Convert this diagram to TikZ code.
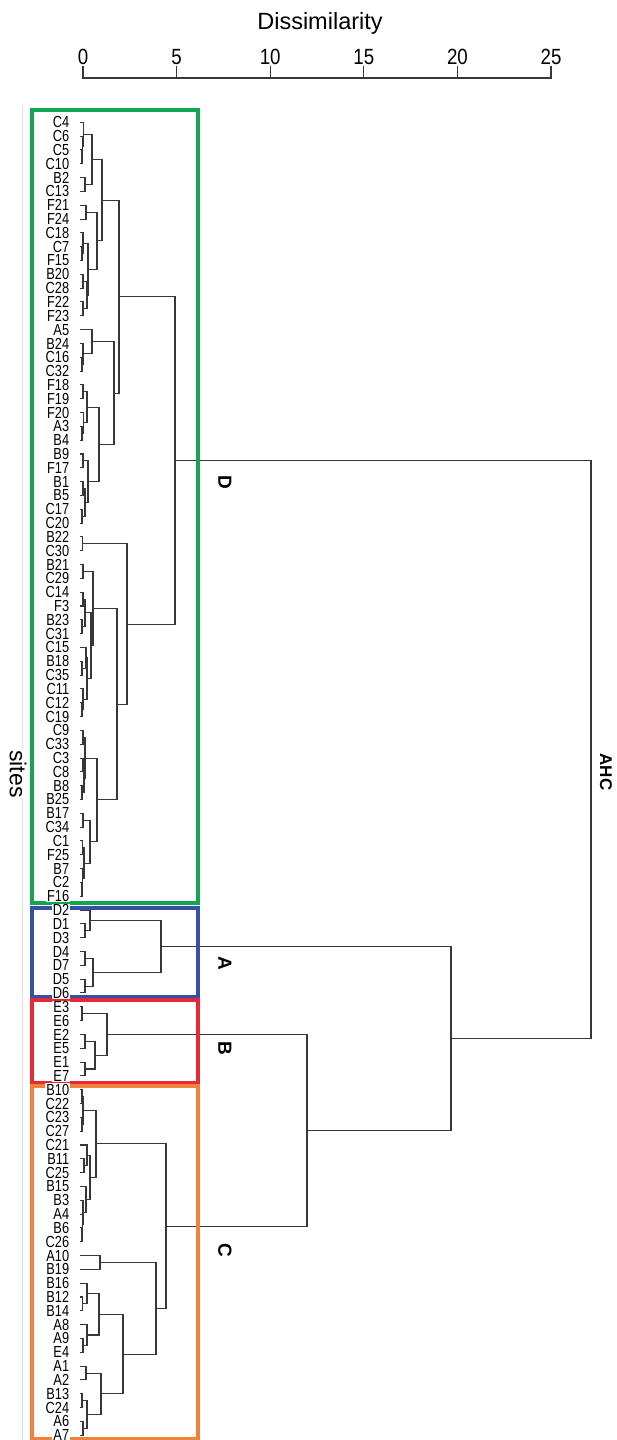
\documentclass[tikz,border=0pt]{standalone}
\usepackage{fontspec}
\setmainfont{Liberation Sans}
\usetikzlibrary{calc}
\definecolor{treecol}{RGB}{55,55,55}
\definecolor{bgreen}{RGB}{20,165,80}
\definecolor{bblue}{RGB}{55,80,165}
\definecolor{bred}{RGB}{232,40,55}
\definecolor{borange}{RGB}{240,130,60}
\tikzset{
  tree/.style={draw=treecol, line width=1.05pt},
  leaflab/.style={anchor=east, fill=white, inner xsep=1.5pt, inner ysep=0.6pt, font=\fontsize{16}{16}\selectfont, xscale=0.8, transform shape},
  clusterbox/.style={line width=3.5pt},
  grouplab/.style={font=\fontsize{19}{20}\selectfont\bfseries, rotate=-90, inner sep=0pt},
  axisline/.style={draw=treecol, line width=1.2pt},
  ticklab/.style={font=\fontsize{22}{24}\selectfont, xscale=0.85, inner sep=0pt},
}
\newcommand\mrg[4]{%
  \path let \p1=(#2), \p2=(#3) in coordinate (#1) at (#4, {(\y1+\y2)/2});
  \draw[tree] (#2) -- (#2 -| #1) -- (#3 -| #1) -- (#3);}
\newcommand\leaflist{C4,C6,C5,C10,B2,C13,F21,F24,C18,C7,F15,B20,C28,F22,F23,A5,B24,C16,C32,F18,F19,F20,A3,B4,B9,F17,B1,B5,C17,C20,B22,C30,B21,C29,C14,F3,B23,C31,C15,B18,C35,C11,C12,C19,C9,C33,C3,C8,B8,B25,B17,C34,C1,F25,B7,C2,F16,D2,D1,D3,D4,D7,D5,D6,E3,E6,E2,E5,E1,E7,B10,C22,C23,C27,C21,B11,C25,B15,B3,A4,B6,C26,A10,B19,B16,B12,B14,A8,A9,E4,A1,A2,B13,C24,A6,A7}
\begin{document}
\begin{tikzpicture}[x=1pt,y=1pt]
\useasboundingbox (0,0) rectangle (616,-1440);
\fill[white] (0,0) rectangle (616,-1440);
% faint frame line
\draw[gray!25, line width=0.8pt] (22,-106) -- (22,-1440);
% axis
\node[font=\fontsize{23.5}{26}\selectfont, inner sep=0pt] (title) at (320,-23) {Dissimilarity};
\draw[axisline] (83,-66) -- (83,-78) -- (551,-78) -- (551,-66);
\foreach \v in {5,10,15,20} {\draw[axisline] ({83+18.72*\v},-66) -- ({83+18.72*\v},-78);}
\foreach \v in {0,5,10,15,20,25} {\node[ticklab] (tick\v) at ({83+18.72*\v},-57) {\v};}
% leaf positions
\foreach \n [count=\i from 0] in \leaflist {
  \coordinate (\n) at (80, {-(122.3+13.82*\i)});
}
% cluster D
\mrg{m1}{C5}{C10}{82}
\mrg{m2}{C6}{m1}{82.5}
\mrg{m3}{C4}{m2}{83.5}
\mrg{m4}{B2}{C13}{85}
\mrg{g05}{m3}{m4}{92}
\mrg{m5}{F21}{F24}{86}
\mrg{m6}{C7}{F15}{82}
\mrg{m7}{C18}{m6}{83}
\mrg{m8}{B20}{C28}{83}
\mrg{m9}{F22}{F23}{83}
\mrg{m10}{m8}{m9}{87}
\mrg{m11}{m7}{m10}{88}
\mrg{g614}{m5}{m11}{97}
\mrg{g014}{g05}{g614}{102}
\mrg{m12}{C16}{C32}{82}
\mrg{m13}{B24}{m12}{83}
\mrg{g1518}{A5}{m13}{92}
\mrg{m14}{F18}{F19}{83}
\mrg{m15}{A3}{B4}{82}
\mrg{m16}{F20}{m15}{83.5}
\mrg{g1923}{m14}{m16}{87}
\mrg{m17}{B9}{F17}{83}
\mrg{m18}{B1}{B5}{83}
\mrg{m19}{C17}{C20}{82}
\mrg{m20}{m18}{m19}{85}
\mrg{g2429}{m17}{m20}{88}
\mrg{g1929}{g1923}{g2429}{99}
\mrg{g1529}{g1518}{g1929}{114}
\mrg{g029}{g014}{g1529}{119}
\mrg{m21}{B22}{C30}{82.5}
\mrg{m22}{B21}{C29}{83}
\mrg{m23}{C14}{F3}{83}
\mrg{m24}{B23}{C31}{82}
\mrg{m25}{m23}{m24}{85}
\mrg{m26}{B18}{C35}{82}
\mrg{m27}{C15}{m26}{86}
\mrg{m28}{C12}{C19}{82}
\mrg{m29}{C11}{m28}{83}
\mrg{m30}{m27}{m29}{87}
\mrg{m31}{m25}{m30}{91}
\mrg{g3243}{m22}{m31}{93}
\mrg{m32}{C9}{C33}{83}
\mrg{m33}{C3}{C8}{83}
\mrg{m34}{B8}{B25}{82}
\mrg{m35}{m33}{m34}{84}
\mrg{g4449}{m32}{m35}{85}
\mrg{m36}{B17}{C34}{83}
\mrg{m37}{C1}{F25}{82.5}
\mrg{m38}{C2}{F16}{82}
\mrg{m39}{B7}{m38}{82.5}
\mrg{m40}{m37}{m39}{84}
\mrg{g5056}{m36}{m40}{90}
\mrg{g4456}{g4449}{g5056}{97}
\mrg{g3256}{g3243}{g4456}{117}
\mrg{g3056}{m21}{g3256}{127}
\mrg{kD}{g029}{g3056}{175}
% cluster A
\mrg{p1}{D1}{D3}{85}
\mrg{p2}{D2}{p1}{90}
\mrg{p3}{D4}{D7}{85}
\mrg{p4}{D5}{D6}{85}
\mrg{p5}{p3}{p4}{93}
\mrg{kA}{p2}{p5}{161}
% cluster B
\mrg{r1}{E3}{E6}{82}
\mrg{r2}{E2}{E5}{85}
\mrg{r3}{E1}{E7}{85}
\mrg{r4}{r2}{r3}{95}
\mrg{kB}{r1}{r4}{107}
% cluster C
\mrg{q1}{B10}{C22}{82}
\mrg{q2}{C23}{C27}{82}
\mrg{q3}{q1}{q2}{83}
\mrg{q4}{B11}{C25}{84}
\mrg{q5}{C21}{q4}{87}
\mrg{q6}{B6}{C26}{82}
\mrg{q7}{A4}{q6}{82.5}
\mrg{q8}{B3}{q7}{83}
\mrg{q9}{B15}{q8}{86}
\mrg{q10}{q5}{q9}{90}
\mrg{qU}{q3}{q10}{96}
\mrg{q11}{A10}{B19}{100}
\mrg{q12}{B12}{B14}{82.5}
\mrg{q13}{B16}{q12}{87}
\mrg{q14}{A9}{E4}{83}
\mrg{q15}{A8}{q14}{87}
\mrg{q16}{q13}{q15}{99}
\mrg{q17}{A1}{A2}{86}
\mrg{q18}{B13}{C24}{82}
\mrg{q19}{A6}{A7}{83}
\mrg{q20}{q18}{q19}{87}
\mrg{q21}{q17}{q20}{101}
\mrg{q22}{q16}{q21}{123}
\mrg{qL}{q11}{q22}{156}
\mrg{kC}{qU}{qL}{166}
% top levels
\mrg{kBC}{kB}{kC}{307}
\mrg{kABC}{kA}{kBC}{451}
\mrg{kroot}{kD}{kABC}{591}
% cluster boxes
\draw[clusterbox, bgreen] (32,-110) rectangle (198,-903);
\draw[clusterbox, bblue] (32,-908) rectangle (198,-997);
\draw[clusterbox, bred] (32,-1000) rectangle (198,-1083);
\draw[clusterbox, borange] (32,-1086) rectangle (198,-1438.5);
% leaf labels (on white, over the box lines)
\foreach \n [count=\i from 0] in \leaflist {
  \node[leaflab] (t\n) at (70.5, {-(122.3+13.82*\i)}) {\n};
}
% group labels
\node[grouplab] (labD) at (225,-482) {D};
\node[grouplab] (labA) at (225,-963) {A};
\node[grouplab] (labB) at (225,-1048) {B};
\node[grouplab] (labC) at (225,-1250) {C};
\node[font=\fontsize{17}{18}\selectfont\bfseries, rotate=-90, inner sep=0pt] (ahc) at (606,-772) {AHC};
\node[font=\fontsize{23}{24}\selectfont, rotate=-90, fill=white, inner sep=1pt] (sites) at (18,-774) {sites};
\end{tikzpicture}
\end{document}
